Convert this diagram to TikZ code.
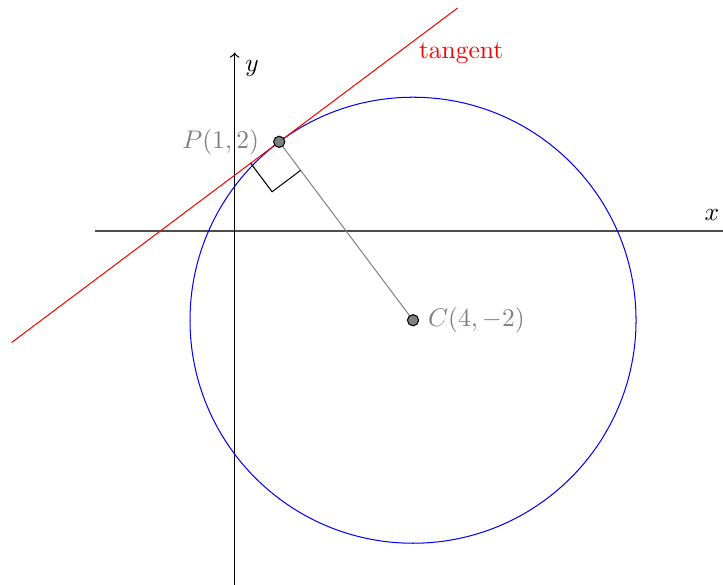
\documentclass[tikz,border=0pt]{standalone}
\usetikzlibrary{calc}
\begin{document}
\begin{tikzpicture}[scale=0.615,
  dot/.style={circle,draw=black,fill=gray,inner sep=0pt,minimum size=4.4pt},
  glabel/.style={text=gray}]
\clip (-5.26,-7.92) rectangle (10.95,5.18);
\useasboundingbox (-5.26,-7.92) rectangle (10.95,5.18);
% axes
\draw[black!70,line width=0.6pt,->] (-3.13,0) -- (11.5,0);
\node at (10.7,0.36) {$x$};
\draw[black,line width=0.5pt,->] (0,-8.5) -- (0,4);
\node at (0.39,3.64) {$y$};
% circle
\draw[blue] (4,-2) circle (5);
% tangent
\draw[red] (-5,-2.5) -- (5,5);
\node[text=red] at (5.08,3.99) {tangent};
% points
\coordinate (Pc) at (1,2);
\coordinate (Cc) at (4,-2);
\draw[gray] (Pc) -- (Cc);
% right angle
\draw[black] ($(Pc)+(-0.64,-0.48)$) -- ++(0.48,-0.64) -- ++(0.64,0.48);
\node[dot] (P) at (Pc) {};
\node[dot] (C) at (Cc) {};
\node[glabel,left=2pt] at (P.west) {$P(1,2)$};
\node[glabel,right=0pt] at (C.east) {$C(4,-2)$};
\end{tikzpicture}
\end{document}
